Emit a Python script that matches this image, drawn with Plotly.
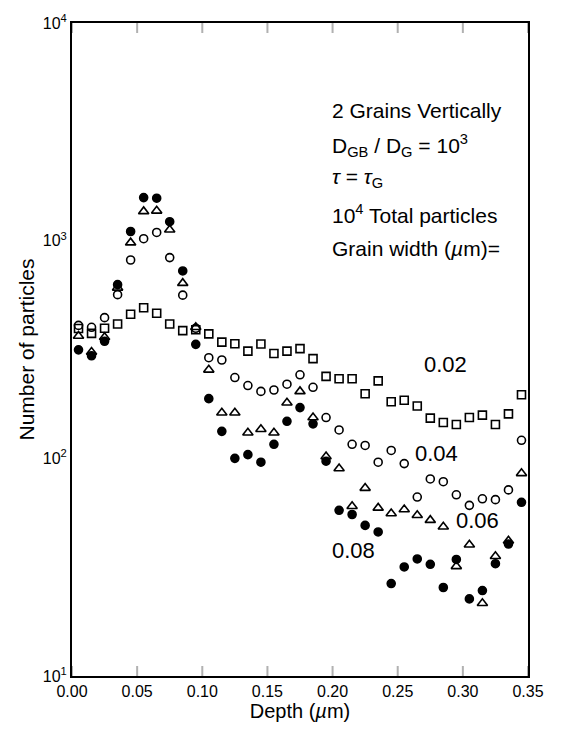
import math
import plotly.graph_objects as go

# Depth bin centres (µm)
depth = [round(0.005 + 0.01 * i, 3) for i in range(35)]

# Particle counts per depth bin for each grain width
gw_002 = [395, 375, 396, 414, 459, 492, 464, 414, 386, 390,
          373, 342, 336, 311, 335, 303, 311, 319, 287, 238,
          232, 232, 198, 227, 182, 185, 174, 153, 146, 143,
          154, 158, 143, 160, 196]
gw_004 = [408, 400, 443, 565, 815, 1021, 1091, 836, 562, 396,
          290, 283, 235, 216, 203, 206, 219, 242, 212, 154,
          135, 116, 114.6, 96, 108.7, 94.6, 66.4, 80.4, 78.1, 68,
          60.8, 65.2, 64.6, 71.6, 121]
gw_006 = [365, 308, 360, 607, 979, 1363, 1371, 1122, 638, 400,
          255, 162, 162, 131, 136, 131, 180, 203, 154, 102,
          89.8, 60.2, 73, 59.2, 55.8, 58.2, 54.8, 52, 48.5, 31.9,
          40.1, 21.6, 35.5, 41.8, 85.3]
gw_008 = [315, 296, 345, 628, 1102, 1577, 1567, 1222, 726, 334,
          188, 133, 100, 104, 96, 116, 148, 171, 144, 97,
          57.7, 55.2, 49.2, 45.9, 26.6, 31.7, 34.5, 32.6, 25.5, 34.3,
          22.6, 24.7, 32.8, 40.4, 62.8]

x_ticks = [0.0, 0.05, 0.10, 0.15, 0.20, 0.25, 0.30, 0.35]
x_tick_text = ["0.00", "0.05", "0.10", "0.15", "0.20", "0.25", "0.30", "0.35"]
y_ticks = [10, 100, 1000, 10000]
y_tick_text = ["10<sup>1</sup>", "10<sup>2</sup>", "10<sup>3</sup>", "10<sup>4</sup>"]
y_minor = [m * 10 ** e for e in range(1, 4) for m in range(2, 10)]

FONT = "Liberation Sans"
INK = "black"
W, H = 564, 730
ML, MR, MT, MB = 72, 36, 16, 51


def px_to_paper(xp, yp):
    """Convert page pixel position to paper coordinates."""
    return (xp - ML) / (W - ML - MR), (H - MB - yp) / (H - MT - MB)


fig = go.Figure()

series = [
    ("0.02", gw_002, dict(symbol="square-open", size=8)),
    ("0.04", gw_004, dict(symbol="circle-open", size=8)),
    ("0.06", gw_006, dict(symbol="triangle-up-open", size=9)),
    ("0.08", gw_008, dict(symbol="circle", size=8)),
]
for name, vals, mk in series:
    fig.add_trace(go.Scatter(
        x=depth, y=vals, mode="markers", name=name,
        marker=dict(color=INK, line=dict(color=INK, width=1.6), **mk),
        cliponaxis=False,
    ))

# Inward tick marks on all four sides, pinned to the frame in pixel lengths
tick_line = dict(color=INK, width=2)
for xv in x_ticks:
    for edge, sign in ((0, 1), (1, -1)):
        fig.add_shape(type="line", xref="x", yref="paper", ysizemode="pixel",
                      yanchor=edge, x0=xv, x1=xv, y0=0, y1=sign * 10,
                      line=tick_line, layer="above")
for vals, length in ((y_ticks, 14), (y_minor, 8)):
    for yv in vals:
        ly = math.log10(yv)
        for edge, sign in ((0, 1), (1, -1)):
            fig.add_shape(type="line", xref="paper", yref="y", xsizemode="pixel",
                          xanchor=edge, x0=0, x1=sign * length, y0=ly, y1=ly,
                          line=tick_line, layer="above")

# Curve labels (grain width, µm), placed beside each series
curve_labels = [("0.02", 0.287, 270), ("0.04", 0.280, 105), ("0.06", 0.311, 52), ("0.08", 0.216, 37.6)]
for txt, xv, yv in curve_labels:
    fig.add_annotation(x=xv, y=math.log10(yv), xref="x", yref="y", text=txt,
                       showarrow=False, font=dict(family=FONT, size=22, color=INK))

# Simulation conditions block
cond = [
    ("2 Grains Vertically", 105),
    ("D<sub>GB</sub> / D<sub>G</sub> = 10<sup>3</sup>", 140),
    ("<i>τ</i> = <i>τ</i><sub>G</sub>", 173),
    ("10<sup>4</sup> Total particles", 210),
    ("Grain width (<i>µ</i>m)=", 245),
]
for txt, ypx in cond:
    xp, yp = px_to_paper(330, ypx)
    fig.add_annotation(x=xp, y=yp, xref="paper", yref="paper", text=txt,
                       showarrow=False, xanchor="left", yanchor="middle",
                       font=dict(family=FONT, size=21, color=INK))

fig.update_layout(
    template="simple_white",
    width=W, height=H,
    margin=dict(l=ML, r=MR, t=MT, b=MB),
    paper_bgcolor="white", plot_bgcolor="white",
    showlegend=False,
    font=dict(family=FONT, size=16, color=INK),
    xaxis=dict(
        range=[0, 0.35], tickmode="array", tickvals=x_ticks, ticktext=x_tick_text,
        ticks="", showline=True, linewidth=2, linecolor=INK, mirror=True,
        showgrid=False, zeroline=False,
        title=dict(text="Depth (<i>µ</i>m)", font=dict(size=20), standoff=4),
    ),
    yaxis=dict(
        type="log", range=[1, 4],
        tickmode="array", tickvals=y_ticks, ticktext=y_tick_text,
        ticks="", showline=True, linewidth=2, linecolor=INK, mirror=True,
        showgrid=False, zeroline=False,
        title=dict(text="Number of particles", font=dict(size=21), standoff=2),
    ),
)

fig.write_html("out.html")
